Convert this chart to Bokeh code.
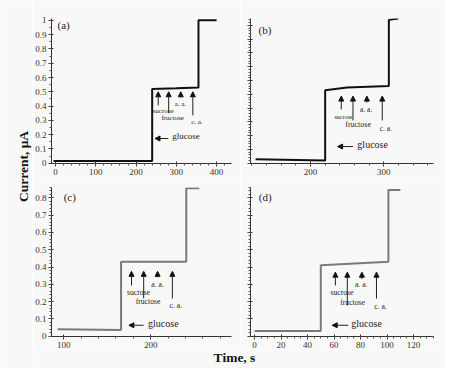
import math
from bokeh.plotting import figure
from bokeh.layouts import row, column
from bokeh.models import (Range1d, FixedTicker, CustomJSTickFormatter, Arrow,
                          NormalHead, Label, ColumnDataSource)
from bokeh.embed import file_html
from bokeh.resources import INLINE

FONT = "Liberation Serif"
BG = "#f8f8f8"

# ---------------- data ----------------
# panel (a)
a_t = [-5, 100, 240, 240, 300, 355, 355, 400]
a_i = [0.016, 0.015, 0.015, 0.52, 0.525, 0.53, 1.0, 1.0]
# panel (b)
b_t = [125, 220, 220, 250, 307, 307, 320]
b_i = [0.028, 0.02, 0.53, 0.55, 0.56, 1.04, 1.05]
# panel (c)
c_t = [93, 166, 166, 241, 241, 256]
c_i = [0.04, 0.035, 0.43, 0.43, 0.855, 0.855]
# panel (d)
d_t = [0, 50, 50, 101, 101, 110]
d_i = [0.03, 0.03, 0.41, 0.43, 0.845, 0.845]

arrow_names = ["sucrose", "fructose", "a. a.", "c. a."]

# up-arrows: x position, tip current, tail current; label positions
a_arrow_t = [255, 281, 311, 341]
a_arrow_tip = [0.50, 0.50, 0.50, 0.50]
a_arrow_tail = [0.405, 0.35, 0.46, 0.335]
a_lab_t = [267, 291, 310, 351]
a_lab_i = [0.364, 0.317, 0.417, 0.289]
a_lab_size = ["7px", "7px", "7px", "7px"]
a_gluc = dict(head=247, tail=280, i=0.173, lab_t=290, lab_i=0.19, size="9px")

b_arrow_t = [242, 258, 277, 298]
b_arrow_tip = [0.487, 0.487, 0.487, 0.487]
b_arrow_tail = [0.39, 0.31, 0.44, 0.31]
b_lab_t = [245, 265, 276, 303]
b_lab_i = [0.336, 0.28, 0.39, 0.254]
b_lab_size = ["6px", "8px", "7.5px", "7.5px"]
b_gluc = dict(head=237, tail=258, i=0.121, lab_t=264, lab_i=0.133, size="10px")

c_arrow_t = [178, 192, 208, 225]
c_arrow_tip = [0.375, 0.375, 0.375, 0.375]
c_arrow_tail = [0.293, 0.218, 0.34, 0.218]
c_lab_t = [186, 197, 208, 229]
c_lab_i = [0.25, 0.20, 0.30, 0.178]
c_lab_size = ["7.7px", "7.7px", "7.7px", "7.7px"]
c_gluc = dict(head=175, tail=192, i=0.063, lab_t=197, lab_i=0.076, size="10px")

d_arrow_t = [61, 70, 81, 92]
d_arrow_tip = [0.37, 0.37, 0.37, 0.37]
d_arrow_tail = [0.293, 0.178, 0.33, 0.217]
d_lab_t = [66, 74, 80.5, 95]
d_lab_i = [0.25, 0.197, 0.30, 0.174]
d_lab_size = ["7.7px", "7.7px", "7.7px", "7.7px"]
d_gluc = dict(head=58.6, tail=70.7, i=0.063, lab_t=73, lab_i=0.076, size="10px")

panel_tags = ["(a)", "(b)", "(c)", "(d)"]
tag_pos = [(5, 0.97), (129, 0.965), (100, 0.805), (3.2, 0.806)]

# axis ticks
a_xticks = [0, 100, 200, 300, 400]
b_xticks = [200, 300]
c_xticks = [100, 200]
d_xticks = [0, 20, 40, 60, 80, 100, 120, 140]
top_yticks = [round(k * 0.1, 1) for k in range(0, 11)]
bot_yticks = [round(k * 0.1, 1) for k in range(0, 9)]

fmt_num = CustomJSTickFormatter(code="return String(Math.round(tick*10)/10);")
fmt_blank = CustomJSTickFormatter(code="return '';")


def make_panel(t, i, color, xr, yr, xticks, xminor, yticks, yminor, show_ylab,
               width, height, bl, br, bt, bb):
    p = figure(width=width, height=height, output_backend="svg",
               toolbar_location=None, x_range=Range1d(*xr), y_range=Range1d(*yr),
               min_border_left=bl, min_border_right=br,
               min_border_top=bt, min_border_bottom=bb)
    p.background_fill_color = BG
    p.border_fill_color = BG
    p.outline_line_color = None
    p.grid.visible = False
    p.line(t, i, line_color=color, line_width=2)
    for ax in (p.xaxis[0], p.yaxis[0]):
        ax.axis_line_color = "#333333"
        ax.major_tick_line_color = "#333333"
        ax.minor_tick_line_color = "#555555"
        ax.major_tick_in = 2
        ax.major_tick_out = 3
        ax.minor_tick_in = 0
        ax.minor_tick_out = 2
        ax.major_label_text_font = FONT
        ax.major_label_text_font_size = "9px"
        ax.major_label_text_color = "#333333"
        ax.major_label_standoff = 2
    p.xaxis.ticker = FixedTicker(ticks=xticks, minor_ticks=xminor)
    p.yaxis.ticker = FixedTicker(ticks=yticks, minor_ticks=yminor)
    p.xaxis.formatter = fmt_num
    p.yaxis.formatter = fmt_num if show_ylab else fmt_blank
    if not show_ylab:
        p.yaxis.major_label_standoff = 0
    return p


def add_annotations(p, arr_t, tip, tail, lab_t, lab_i, lab_size, gluc, tag, tpos):
    src = ColumnDataSource(dict(x0=arr_t, y0=tail, x1=arr_t, y1=tip))
    p.add_layout(Arrow(end=NormalHead(size=5, fill_color="#111111", line_color="#111111"),
                       x_start="x0", y_start="y0", x_end="x1", y_end="y1",
                       source=src, line_width=1, line_color="#222222"))
    for name, x, y, s in zip(arrow_names, lab_t, lab_i, lab_size):
        p.add_layout(Label(x=x, y=y, text=name, text_font=FONT, text_font_size=s,
                           text_align="center", text_baseline="middle",
                           text_color="#222222"))
    p.add_layout(Arrow(end=NormalHead(size=5, fill_color="#111111", line_color="#111111"),
                       x_start=gluc["tail"], y_start=gluc["i"],
                       x_end=gluc["head"], y_end=gluc["i"],
                       line_width=1, line_color="#222222"))
    p.add_layout(Label(x=gluc["lab_t"], y=gluc["lab_i"], text="glucose",
                       text_font=FONT, text_font_size=gluc["size"],
                       text_align="left", text_baseline="middle",
                       text_color="#222222"))
    p.add_layout(Label(x=tpos[0], y=tpos[1], text=tag, text_font=FONT,
                       text_font_size="11px", text_align="left",
                       text_baseline="middle", text_color="#222222"))


def rng(a, b, s):
    n = int(round((b - a) / s))
    return [round(a + k * s, 4) for k in range(n + 1)]


pa = make_panel(a_t, a_i, "#111111", (-10, 437), (-0.002, 1.013), a_xticks,
                rng(-0, 440, 20), top_yticks, rng(0, 1.0, 0.05), True,
                208, 178, 19, 9, 18, 15)
add_annotations(pa, a_arrow_t, a_arrow_tip, a_arrow_tail, a_lab_t, a_lab_i,
                a_lab_size, a_gluc, panel_tags[0], tag_pos[0])

pb = make_panel(b_t, b_i, "#111111", (118, 368), (-0.002, 1.05), b_xticks,
                rng(120, 360, 20), top_yticks, rng(0, 1.04, 0.02), False,
                205, 178, 10, 12, 13, 15)
add_annotations(pb, b_arrow_t, b_arrow_tip, b_arrow_tail, b_lab_t, b_lab_i,
                b_lab_size, b_gluc, panel_tags[1], tag_pos[1])

pc = make_panel(c_t, c_i, "#7a7a7a", (86, 293), (-0.002, 0.86), c_xticks,
                rng(100, 280, 20), bot_yticks, rng(0, 0.86, 0.02), True,
                208, 172, 19, 9, 9, 14)
add_annotations(pc, c_arrow_t, c_arrow_tip, c_arrow_tail, c_lab_t, c_lab_i,
                c_lab_size, c_gluc, panel_tags[2], tag_pos[2])

pd = make_panel(d_t, d_i, "#7a7a7a", (-3, 135), (-0.002, 0.86), d_xticks,
                rng(0, 135, 5), bot_yticks, rng(0, 0.86, 0.02), False,
                205, 172, 10, 12, 9, 14)
add_annotations(pd, d_arrow_t, d_arrow_tip, d_arrow_tail, d_lab_t, d_lab_i,
                d_lab_size, d_gluc, panel_tags[3], tag_pos[3])


def label_fig(w, h, text, x, y, angle):
    f = figure(width=w, height=h, output_backend="svg", toolbar_location=None,
               x_range=Range1d(0, 1), y_range=Range1d(0, 1),
               min_border=0)
    f.axis.visible = False
    f.grid.visible = False
    f.outline_line_color = None
    f.background_fill_color = BG
    f.border_fill_color = BG
    f.add_layout(Label(x=x, y=y, x_units="screen", y_units="screen", text=text,
                       angle=angle, text_font=FONT, text_font_size="13.5px",
                       text_font_style="bold", text_align="center",
                       text_baseline="middle", text_color="#111111"))
    return f


ylab = label_fig(32, 368, "Current, μA", 23, 202, math.pi / 2)
xlab = label_fig(413, 18, "Time, s", 202, 11, 0)

layout = row(ylab, column(row(pa, pb), row(pc, pd), xlab))

open("out.html", "w").write(file_html(layout, INLINE))
